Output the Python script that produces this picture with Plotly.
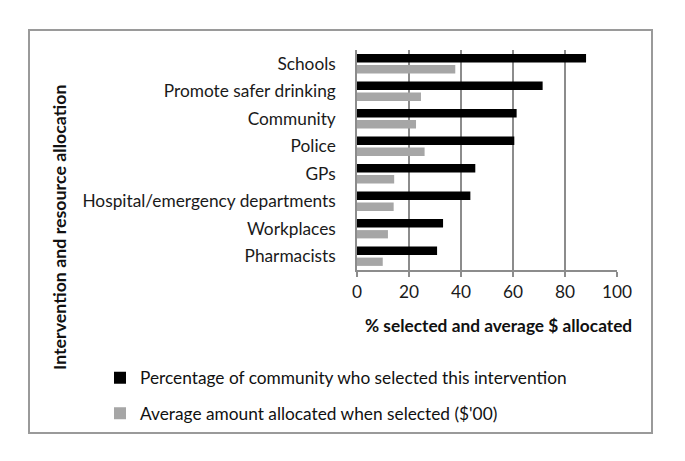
import plotly.graph_objects as go

categories = ["Schools", "Promote safer drinking", "Community", "Police", "GPs",
              "Hospital/emergency departments", "Workplaces", "Pharmacists"]
pct_selected = [88.1, 71.4, 61.4, 60.5, 45.5, 43.6, 33.1, 30.8]
avg_allocated = [37.8, 24.6, 22.7, 26.0, 14.3, 14.1, 11.9, 9.9]
x_ticks = [0, 20, 40, 60, 80, 100]
series_names = ["Percentage of community who selected this intervention",
                "Average amount allocated when selected ($'00)"]

FONT = "Lato"
FS = 17.3
W, H = 685, 461
L, R, T, B = 357, 617, 50, 270

fig = go.Figure()
fig.add_trace(go.Bar(y=categories, x=pct_selected, orientation="h", name=series_names[0],
                     legendgroup="a",
                     marker=dict(color="#000000", line=dict(width=0))))
fig.add_trace(go.Bar(y=categories, x=avg_allocated, orientation="h", name=series_names[1],
                     legendgroup="b",
                     marker=dict(color="#a6a6a6", line=dict(width=0))))

def px_x(px):
    return (px - L) / (R - L)

def px_y(py):
    return (B - py) / (B - T)

fig.update_layout(
    width=W, height=H,
    margin=dict(l=L, r=W - R, t=T, b=H - B, autoexpand=False),
    paper_bgcolor="white", plot_bgcolor="white",
    barmode="group", bargap=0.2, bargroupgap=0.245,
    font=dict(family=FONT, size=FS, color="#1a1a1a"),
    showlegend=True,
    legend=dict(x=px_x(100), y=px_y(360), xanchor="left", yanchor="top",
                font=dict(family=FONT, size=FS, color="#111111"),
                traceorder="grouped", tracegroupgap=10, itemwidth=30,
                bgcolor="rgba(0,0,0,0)"),
    xaxis=dict(range=[0, 100], tickvals=x_ticks, showgrid=True, gridcolor="#8c8c8c",
               gridwidth=1.5, showline=True, linecolor="#8c8c8c", linewidth=1.5,
               ticks="outside", ticklen=5, tickcolor="#8c8c8c", tickwidth=1.5,
               tickfont=dict(family=FONT, size=FS, color="#1a1a1a"), zeroline=False,
               fixedrange=True, automargin=False),
    yaxis=dict(categoryorder="array", categoryarray=categories, autorange="reversed",
               showline=True, linecolor="#8c8c8c", linewidth=1.5, showgrid=False,
               ticks="", tickfont=dict(family=FONT, size=FS, color="#1a1a1a"),
               ticklabelstandoff=16, fixedrange=True, automargin=False),
    shapes=[dict(type="rect", xref="paper", yref="paper",
                 x0=px_x(29), x1=px_x(652), y0=px_y(433), y1=px_y(30),
                 line=dict(color="#9a9a9a", width=2), fillcolor="rgba(0,0,0,0)", layer="below")],
    annotations=[
        dict(text="<b>% selected and average $ allocated</b>", xref="paper", yref="paper",
             x=px_x(498), y=px_y(325), xanchor="center", yanchor="middle", showarrow=False,
             font=dict(family=FONT, size=FS, color="#111111")),
        dict(text="<b>Intervention and resource allocation</b>", xref="paper", yref="paper",
             x=px_x(59), y=px_y(228), xanchor="center", yanchor="middle", showarrow=False,
             textangle=-90, font=dict(family=FONT, size=FS + 0.5, color="#111111")),
    ],
)

fig.write_html("out.html", config={"displayModeBar": False},
               post_script="document.body.style.margin='0px';")
